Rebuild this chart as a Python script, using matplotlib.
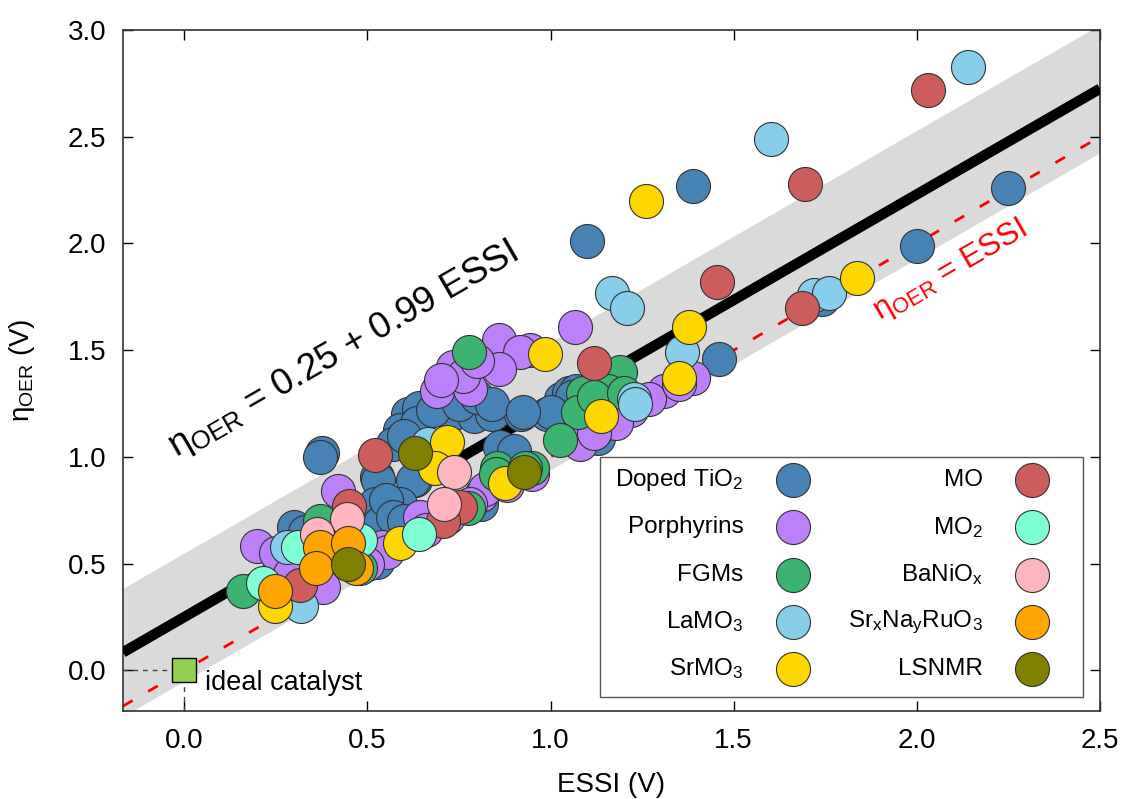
import matplotlib
matplotlib.use("Agg")
import matplotlib.pyplot as plt
import numpy as np
from matplotlib.patches import Rectangle

plt.rcParams['font.family'] = ['Liberation Sans', 'DejaVu Sans']
plt.rcParams['mathtext.fontset'] = 'custom'
plt.rcParams['mathtext.rm'] = 'Liberation Sans'
plt.rcParams['mathtext.it'] = 'Liberation Sans:italic'
plt.rcParams['mathtext.bf'] = 'Liberation Sans:bold'

# ---- data (ESSI, eta_OER) per catalyst family ----
doped_tio2 = [(1.10, 2.01), (1.39, 2.27), (2.25, 2.26), (2.00, 1.99), (1.74, 1.74), (1.46, 1.46),
              (0.61, 1.20), (0.65, 1.20), (0.73, 1.20), (0.79, 1.19), (0.84, 1.20), (0.92, 1.20),
              (0.99, 1.20), (0.64, 1.23), (0.59, 1.125), (0.635, 1.16), (0.68, 1.22), (0.75, 1.25),
              (0.80, 1.28), (0.84, 1.25), (1.03, 1.27), (1.05, 1.30), (1.07, 1.31), (1.06, 1.28),
              (1.00, 1.21), (0.925, 1.21), (1.13, 1.09), (1.10, 1.13), (1.14, 1.15), (1.20, 1.22),
              (0.376, 1.02), (0.37, 1.00), (0.526, 0.905), (0.63, 0.89), (0.53, 0.89), (0.625, 0.89),
              (0.52, 0.78), (0.535, 0.69), (0.59, 0.78), (0.862, 1.045), (0.90, 1.03), (0.81, 0.78),
              (0.55, 0.80), (0.57, 0.72), (0.60, 0.70), (0.527, 0.51), (0.57, 1.06), (0.60, 1.10),
              (0.30, 0.67), (0.33, 0.65)]
porphyrins = [(1.067, 1.61), (0.944, 1.50), (0.86, 1.55), (0.917, 1.49), (0.86, 1.41), (0.735, 1.42),
              (0.69, 1.31), (0.78, 1.32), (0.76, 1.38), (0.80, 1.45), (0.70, 1.36), (1.39, 1.37),
              (1.31, 1.31), (1.27, 1.27), (1.35, 1.34), (1.22, 1.22), (1.18, 1.16), (1.08, 1.06),
              (1.12, 1.11), (0.42, 0.84), (0.644, 0.72), (0.54, 0.58), (0.553, 0.555), (0.81, 0.82),
              (0.82, 0.85), (0.88, 0.87), (0.95, 0.92), (0.78, 0.78), (0.72, 0.72), (0.66, 0.66),
              (0.20, 0.585), (0.25, 0.55), (0.38, 0.39), (0.29, 0.45), (0.50, 0.50)]
fgms = [(0.778, 1.49), (1.19, 1.40), (1.157, 1.31), (1.089, 1.30), (1.075, 1.21), (1.026, 1.08),
        (1.12, 1.28), (1.20, 1.30), (0.854, 0.95), (0.95, 0.95), (0.85, 0.92), (0.775, 0.76),
        (0.37, 0.70), (0.16, 0.37), (0.48, 0.48), (0.93, 0.95)]
lamo3 = [(2.139, 2.827), (1.601, 2.49), (1.72, 1.76), (1.76, 1.77), (1.168, 1.77), (1.209, 1.70),
         (1.36, 1.49), (1.228, 1.27), (1.23, 1.25), (0.666, 1.06), (0.28, 0.58), (0.32, 0.30)]
srmo3 = [(1.261, 2.20), (1.836, 1.84), (1.378, 1.61), (0.985, 1.48), (1.35, 1.37), (1.138, 1.19),
         (0.718, 1.07), (0.685, 0.95), (0.876, 0.88), (0.59, 0.595), (0.248, 0.30)]
mo = [(2.03, 2.72), (1.694, 2.28), (1.454, 1.82), (1.686, 1.70), (1.12, 1.44), (0.52, 1.01),
      (0.45, 0.77), (0.753, 0.765), (0.707, 0.70), (0.317, 0.40)]
mo2 = [(0.64, 0.64), (0.31, 0.58), (0.216, 0.41), (0.48, 0.61)]
banio = [(0.737, 0.93), (0.71, 0.78), (0.445, 0.71), (0.363, 0.64)]
srnaruo3 = [(0.37, 0.58), (0.447, 0.595), (0.36, 0.48), (0.47, 0.48), (0.248, 0.37)]
lsnmr = [(0.63, 1.02), (0.928, 0.93), (0.447, 0.50)]

groups = [
    ("Doped TiO$_2$", doped_tio2, "#4682b4"),
    ("Porphyrins", porphyrins, "#bb80fa"),
    ("FGMs", fgms, "#3cb371"),
    ("LaMO$_3$", lamo3, "#87ceeb"),
    ("SrMO$_3$", srmo3, "#ffd700"),
    ("MO", mo, "#cd5c5c"),
    ("MO$_2$", mo2, "#7fffd4"),
    ("BaNiO$_\\mathrm{x}$", banio, "#ffb6c1"),
    ("Sr$_\\mathrm{x}$Na$_\\mathrm{y}$RuO$_3$", srnaruo3, "#ffa500"),
    ("LSNMR", lsnmr, "#808000"),
]

intercept, slope, band = 0.25, 0.99, 0.30
xmin, xmax = -0.167, 2.5
ymin, ymax = -0.19, 3.0

fig = plt.figure(figsize=(11.21, 7.99), dpi=100)
ax = fig.add_axes([0.1097, 0.1101, 0.8716, 0.8524])

# fit band, fit line and parity line
xs = np.array([xmin, xmax])
fit = intercept + slope * xs
ax.fill_between(xs, fit - band, fit + band, color='#dadada', lw=0, zorder=1)
ax.plot(xs, xs, color='red', lw=2, dashes=(4, 6.5), zorder=2)
ax.plot(xs, fit, color='black', lw=7.5, solid_capstyle='butt', zorder=3)

# ideal catalyst
ax.plot([xmin, 0], [0, 0], color='#444444', lw=1, dashes=(3.5, 3.5), zorder=2)
ax.plot([0, 0], [ymin, 0], color='#444444', lw=1, dashes=(3.5, 3.5), zorder=2)
ax.scatter([0], [0], marker='s', s=300, color='#92d050', edgecolor='black', lw=1, zorder=6)
ax.text(0.058, -0.06, "ideal catalyst", fontsize=19.5, ha='left', va='center')

for label, pts, col in groups:
    arr = np.array(pts)
    ax.scatter(arr[:, 0], arr[:, 1], s=600, color=col, edgecolor='#333333', lw=0.8, zorder=4)

ax.text(0.434, 1.50, "η$_\\mathrm{OER}$ = 0.25 + 0.99 ESSI", fontsize=26.5, rotation=30,
        rotation_mode='anchor', ha='center', va='center', zorder=5)
ax.text(2.09, 1.87, "η$_\\mathrm{OER}$ = ESSI", fontsize=22.5, color='red', rotation=30,
        rotation_mode='anchor', ha='center', va='center', zorder=5)

# legend drawn by hand: label right aligned, marker after it
ax.add_patch(Rectangle((0.488, 0.0206), 0.495, 0.3524, transform=ax.transAxes,
                       facecolor='white', edgecolor='#555555', lw=1, zorder=7))
rows = [0.339, 0.270, 0.200, 0.131, 0.062]
for i, (label, pts, col) in enumerate(groups):
    c, r = divmod(i, 5)
    mx = [0.686, 0.930][c]
    tx = [0.635, 0.880][c]
    ax.scatter([mx], [rows[r]], s=600, color=col, edgecolor='#333333', lw=0.8,
               transform=ax.transAxes, zorder=8, clip_on=False)
    ax.text(tx, rows[r], label, fontsize=17.5, ha='right', va='center',
            transform=ax.transAxes, zorder=8)

ax.set_xlim(xmin, xmax)
ax.set_ylim(ymin, ymax)
ax.set_xticks(np.arange(0, 2.51, 0.5))
ax.set_yticks(np.arange(0, 3.01, 0.5))
ax.xaxis.set_major_formatter(matplotlib.ticker.FormatStrFormatter('%.1f'))
ax.yaxis.set_major_formatter(matplotlib.ticker.FormatStrFormatter('%.1f'))
ax.tick_params(direction='in', length=7, width=1, labelsize=20, top=True, right=True, pad=12)
for sp in ax.spines.values():
    sp.set_linewidth(1.2)
    sp.set_color('#333333')

ax.set_xlabel("ESSI (V)", fontsize=20, labelpad=13)
ax.set_ylabel("η$_\\mathrm{OER}$ (V)", fontsize=20, labelpad=22)

fig.savefig("out.png", dpi=100)
